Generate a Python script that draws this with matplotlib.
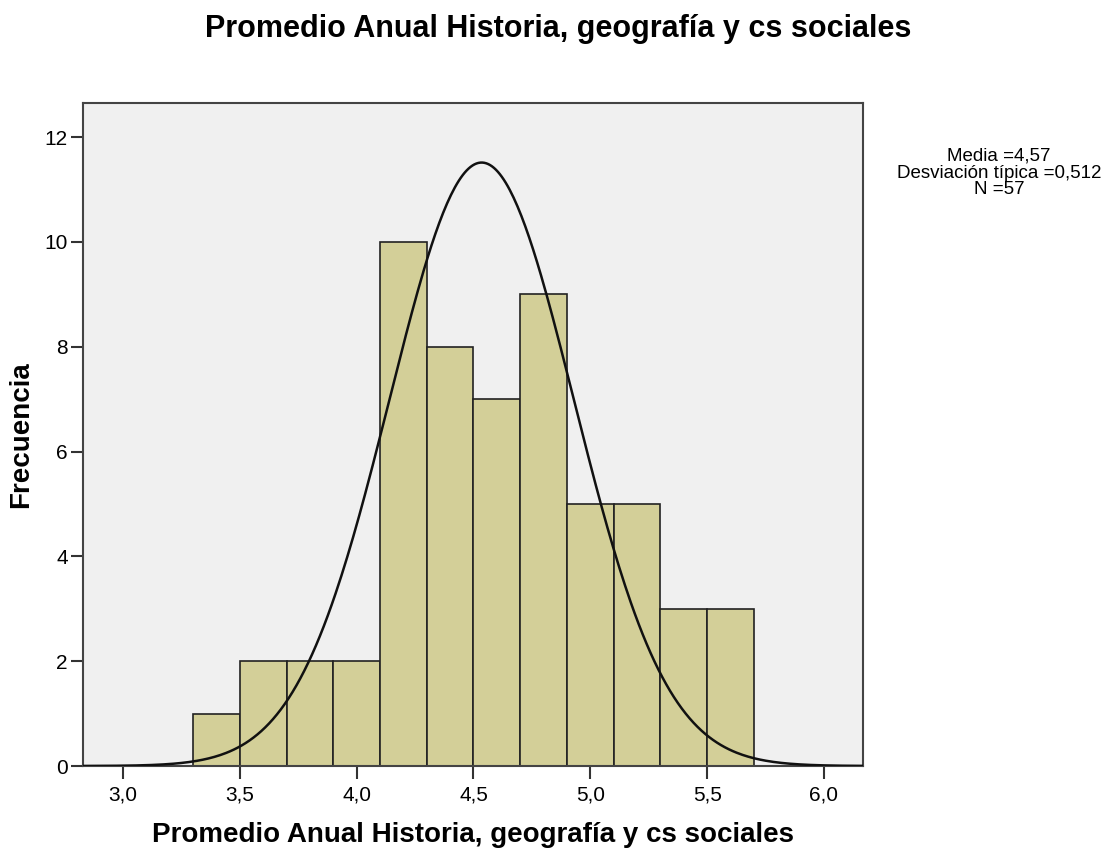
import numpy as np
import matplotlib.pyplot as plt

# histograma con curva normal (estilo SPSS)
bin_edges = [3.3, 3.5, 3.7, 3.9, 4.1, 4.3, 4.5, 4.7, 4.9, 5.1, 5.3, 5.5, 5.7]
counts = [1, 2, 2, 2, 10, 8, 7, 9, 5, 5, 3, 3]
x_ticks = [3.0, 3.5, 4.0, 4.5, 5.0, 5.5, 6.0]
x_labels = ['3,0', '3,5', '4,0', '4,5', '5,0', '5,5', '6,0']
y_ticks = [0, 2, 4, 6, 8, 10, 12]

# parametros de la curva
curve_mean = 4.535
curve_sd = 0.395
n_total = 57
bin_width = 0.2

titulo = 'Promedio Anual Historia, geografía y cs sociales'
stats_text = 'Media =4,57\nDesviación típica =0,512\nN =57'

plt.rcParams['font.family'] = ['Liberation Sans', 'DejaVu Sans']

fig = plt.figure(figsize=(11.17, 8.5), dpi=100)
ax = fig.add_axes([83/1117, 1-766/850, 780/1117, 663/850])
ax.set_facecolor('#f0f0f0')

widths = np.diff(bin_edges)
ax.bar(bin_edges[:-1], counts, width=widths, align='edge',
       color='#d3cf98', edgecolor='#222222', linewidth=1.2, zorder=2)

xs = np.linspace(2.83, 6.17, 400)
ys = n_total * bin_width / (curve_sd * np.sqrt(2*np.pi)) * np.exp(-(xs-curve_mean)**2/(2*curve_sd**2))
ax.plot(xs, ys, color='#111111', linewidth=1.8, zorder=3)

ax.set_xlim(2.829, 6.167)
ax.set_ylim(0, 12.65)
ax.set_xticks(x_ticks)
ax.set_xticklabels(x_labels)
ax.set_yticks(y_ticks)
ax.tick_params(direction='out', length=9, width=1.5, color='#333333', labelsize=15, pad=2)
ax.tick_params(axis='x', pad=5)
for s in ax.spines.values():
    s.set_linewidth(1.5)
    s.set_color('#444444')

fig.text(0.5, 1-29/850, titulo, ha='center', va='center', fontsize=22, fontweight='bold')
fig.text(473/1117, 1-835/850, titulo, ha='center', va='center', fontsize=20, fontweight='bold')
fig.text(21/1117, 1-435/850, 'Frecuencia', ha='center', va='center', rotation=90,
         fontsize=20, fontweight='bold')
fig.text(999/1117, 1-173/850, stats_text, ha='center', va='center', fontsize=13.5, linespacing=1.0)

plt.savefig('out.png')
plt.close()
